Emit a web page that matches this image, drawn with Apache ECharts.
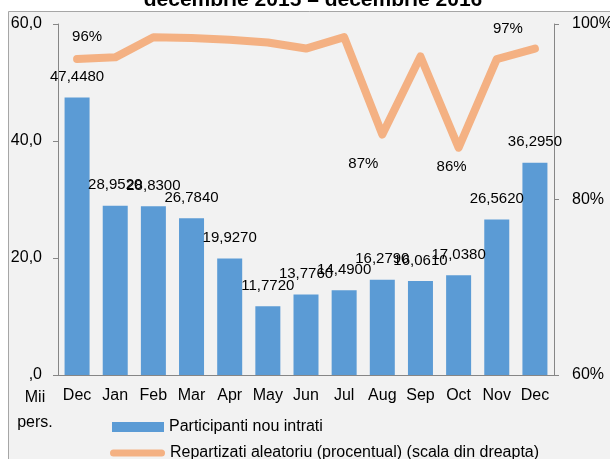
<!DOCTYPE html>
<html>
<head>
<meta charset="utf-8">
<script src="https://cdn.jsdelivr.net/npm/echarts@6/dist/echarts.min.js"></script>
<style>
    html, body { margin: 0; padding: 0; background: #ffffff; }
    #main { width: 610px; height: 459px; }
</style>
</head>
<body>
<div id="main"></div>
<script>
// date
var months = ['Dec', 'Jan', 'Feb', 'Mar', 'Apr', 'May', 'Jun', 'Jul', 'Aug', 'Sep', 'Oct', 'Nov', 'Dec'];
var participanti = [47.448, 28.952, 28.83, 26.784, 19.927, 11.772, 13.776, 14.49, 16.279, 16.061, 17.038, 26.562, 36.295];
var repartizati = [96.0, 96.2, 98.5, 98.4, 98.2, 97.9, 97.2, 98.5, 87.4, 96.3, 85.9, 96.0, 97.2];
var leftTicks = [0, 20, 40, 60];
var rightTicks = [60, 80, 100];

var font = 'Liberation Sans';

// etichete pe linie doar la unele luni (index -> deplasare)
var lineLabelOffsets = {
    0: [10, -22],
    8: [-19, 29],
    10: [-7, 19],
    12: [-27, -20]
};

var lineData = repartizati.map(function (v, i) {
    var item = { value: v };
    if (lineLabelOffsets[i]) {
        item.label = { show: true, offset: lineLabelOffsets[i] };
    }
    return item;
});

var myChart = echarts.init(document.getElementById('main'));

var option = {
    animation: false,
    backgroundColor: '#ffffff',
    textStyle: { fontFamily: font },
    graphic: [
        {
            type: 'rect',
            z: -10,
            silent: true,
            shape: { x: 8.5, y: 11.5, width: 640, height: 480 },
            style: { fill: '#f2f2f2', stroke: '#a6a6a6', lineWidth: 1 }
        },
        {
            type: 'text',
            x: 313, y: 11,
            style: {
                text: 'decembrie 2015 \u2013 decembrie 2016',
                align: 'center', verticalAlign: 'bottom',
                fontFamily: font, fontSize: 21, fontWeight: 'bold', fill: '#000'
            }
        },
        {
            type: 'text',
            x: 35, y: 398,
            style: { text: 'Mii', align: 'center', verticalAlign: 'middle', fontFamily: font, fontSize: 16, fill: '#000' }
        },
        {
            type: 'text',
            x: 35, y: 423,
            style: { text: 'pers.', align: 'center', verticalAlign: 'middle', fontFamily: font, fontSize: 16, fill: '#000' }
        }
    ],
    legend: [
        {
            left: 112, top: 419,
            padding: 0,
            itemWidth: 52, itemHeight: 10,
            icon: 'rect',
            textStyle: { fontFamily: font, fontSize: 16, color: '#000' },
            data: ['Participanti nou intrati']
        },
        {
            left: 110, top: 445,
            padding: 0,
            itemWidth: 55, itemHeight: 7,
            icon: 'path://M3.5,0 H51.5 A3.5,3.5 0 0 1 51.5,7 H3.5 A3.5,3.5 0 0 1 3.5,0 Z',
            textStyle: { fontFamily: font, fontSize: 16, color: '#000' },
            data: ['Repartizati aleatoriu (procentual) (scala din dreapta)']
        }
    ],
    grid: { left: 58, right: 56, top: 24, bottom: 84, containLabel: false, outerBoundsMode: 'none' },
    xAxis: [{
        type: 'category',
        data: months,
        axisLine: { lineStyle: { color: '#868686' } },
        axisTick: { length: 5, lineStyle: { color: '#868686' } },
        axisLabel: { margin: 13, fontSize: 16, color: '#000', interval: 0 }
    }],
    yAxis: [
        {
            type: 'value',
            min: leftTicks[0], max: leftTicks[leftTicks.length - 1], interval: 20,
            splitLine: { show: false },
            axisLine: { show: true, lineStyle: { color: '#868686' } },
            axisTick: { show: true, length: 5, lineStyle: { color: '#868686' } },
            axisLabel: {
                margin: 16, fontSize: 16, color: '#000',
                formatter: function (v) {
                    return v === 0 ? ',0' : v.toFixed(1).replace('.', ',');
                }
            }
        },
        {
            type: 'value',
            position: 'right',
            min: rightTicks[0], max: rightTicks[rightTicks.length - 1], interval: 20,
            splitLine: { show: false },
            axisLine: { show: true, lineStyle: { color: '#868686' } },
            axisTick: { show: true, length: 5, lineStyle: { color: '#868686' } },
            axisLabel: { margin: 18, fontSize: 16, color: '#000', formatter: '{value}%' }
        }
    ],
    series: [
        {
            name: 'Participanti nou intrati',
            type: 'bar',
            data: participanti,
            barWidth: 25,
            itemStyle: { color: '#5b9bd5' },
            label: {
                show: true,
                position: 'top',
                distance: 13,
                fontSize: 15,
                color: '#000',
                formatter: function (p) {
                    return p.value.toFixed(4).replace('.', ',');
                }
            }
        },
        {
            name: 'Repartizati aleatoriu (procentual) (scala din dreapta)',
            type: 'line',
            yAxisIndex: 1,
            data: lineData,
            symbol: 'circle',
            symbolSize: 1,
            showSymbol: true,
            lineStyle: { color: '#f4b183', width: 8, cap: 'round', join: 'round' },
            itemStyle: { color: '#f4b183' },
            label: {
                show: false,
                position: 'inside',
                fontSize: 15,
                color: '#000',
                formatter: function (p) {
                    return Math.round(p.value) + '%';
                }
            }
        }
    ]
};

myChart.setOption(option);
</script>
</body>
</html>
